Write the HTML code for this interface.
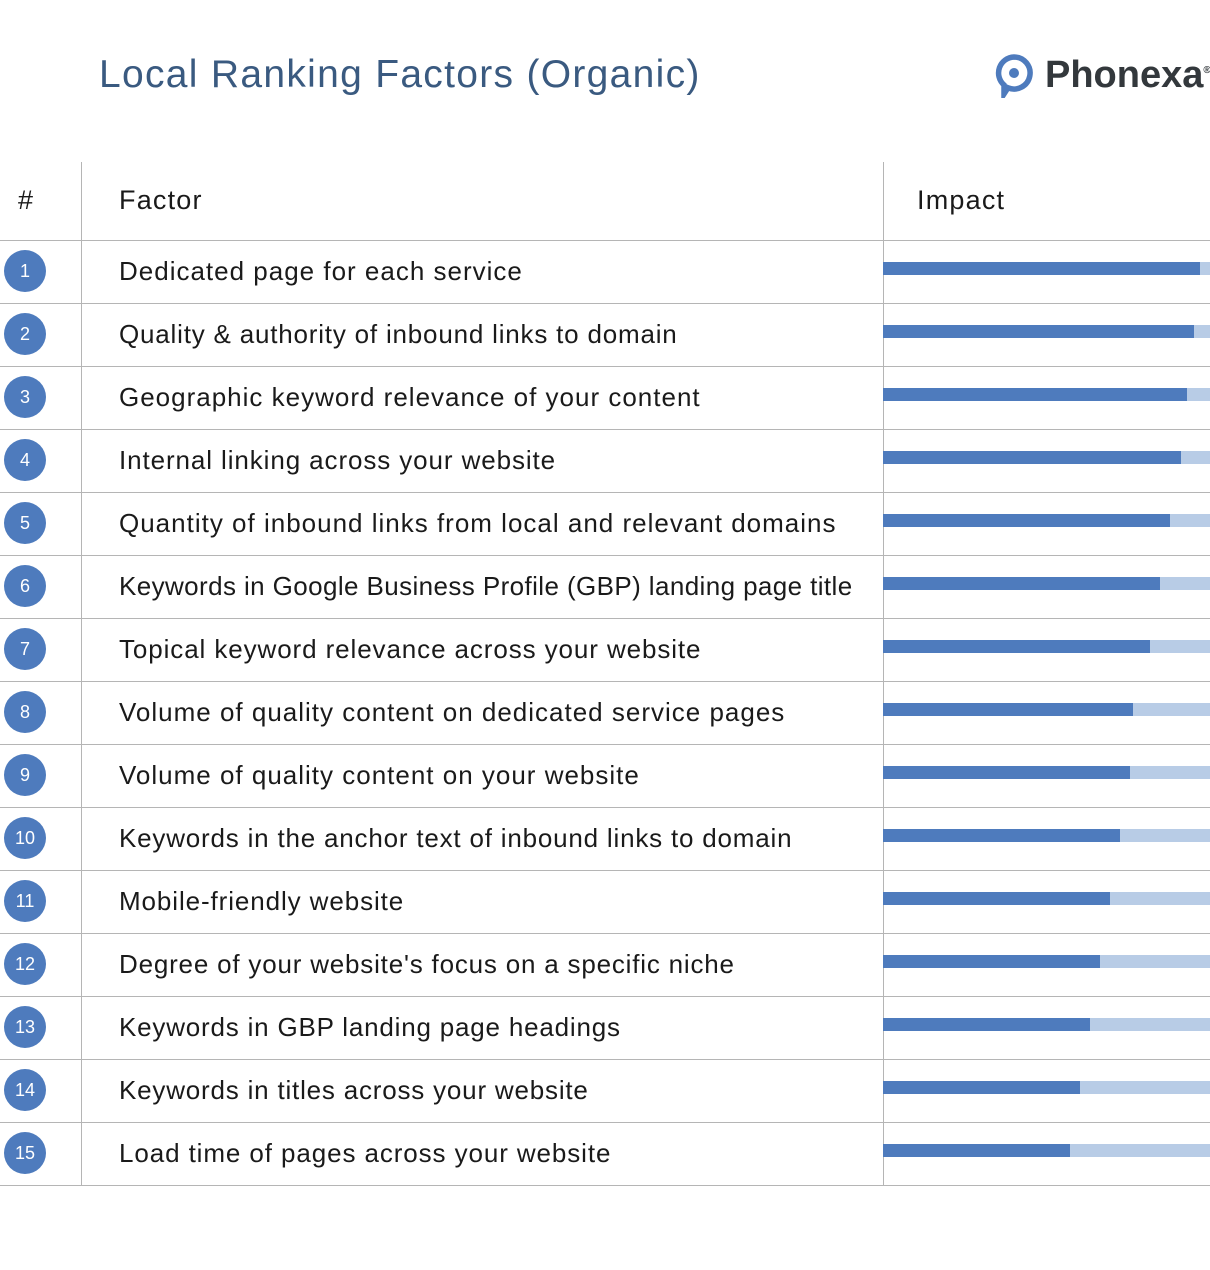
<!DOCTYPE html>
<html><head><style>
body{margin:0;width:1210px;height:1270px;background:#fff;font-family:"Liberation Sans",sans-serif;position:relative;overflow:hidden}
.a{position:absolute}
.t{left:99px;top:53px;font-size:39px;color:#3a5a80;white-space:nowrap;letter-spacing:1.3px}
.h{font-size:27px;color:#1a1a1a;letter-spacing:1.2px}
.hl{height:1px;background:#b5b5b5;left:0;width:1210px}
.vl{width:1px;background:#b5b5b5;top:162px;height:1023px}
.c{left:4px;width:42px;height:42px;border-radius:50%;background:#4e7bbd;color:#fff;font-size:18px;text-align:center;line-height:42px}
.f{left:119px;font-size:26px;color:#1a1a1a;white-space:nowrap;letter-spacing:1px}
.bg{left:883px;width:327px;height:13px;background:#b8cce6}
.b{left:883px;height:13px;background:#4e7bbd}
</style></head><body>
<div class="a t">Local Ranking Factors (Organic)</div>
<svg class="a" style="left:995px;top:54px" width="38" height="44" viewBox="0 0 38 44"><path d="M19 3a16 16 0 1 1-6 30.8L9 40l0-9A16 16 0 0 1 19 3z" fill="none" stroke="#4e7bbd" stroke-width="5.5"/><circle cx="19" cy="19" r="5" fill="#4e7bbd"/></svg>
<div class="a" style="left:1045px;top:54px;font-size:38px;font-weight:bold;color:#33383c">Phonexa<span style="font-size:10px;position:relative;top:-14px">®</span></div>
<div class="a h" style="left:18px;top:185px">#</div>
<div class="a h" style="left:119px;top:185px">Factor</div>
<div class="a h" style="left:917px;top:185px">Impact</div>
<div class="a vl" style="left:81px"></div>
<div class="a vl" style="left:883px"></div>
<div id="r"></div>
<script>
var f=["Dedicated page for each service","Quality &amp; authority of inbound links to domain","Geographic keyword relevance of your content","Internal linking across your website","Quantity of inbound links from local and relevant domains","Keywords in Google Business Profile (GBP) landing page title","Topical keyword relevance across your website","Volume of quality content on dedicated service pages","Volume of quality content on your website","Keywords in the anchor text of inbound links to domain","Mobile-friendly website","Degree of your website's focus on a specific niche","Keywords in GBP landing page headings","Keywords in titles across your website","Load time of pages across your website"];
var ls=[1,0.8,1,0.9,1,0.4,0.9,1,1,0.8,0.9,0.8,0.8,0.8,0.9];
var e=[1200,1194,1187,1181,1170,1160,1150,1133,1130,1120,1110,1100,1090,1080,1070];
var h='<div class="a hl" style="top:240px"></div>';
for(var i=0;i<15;i++){var y=240+i*63,c=y+31;
h+='<div class="a hl" style="top:'+(y+63)+'px"></div>';
h+='<div class="a c" style="top:'+(c-21)+'px">'+(i+1)+'</div>';
h+='<div class="a f" style="top:'+(c-15)+'px;letter-spacing:'+ls[i]+'px">'+f[i]+'</div>';
h+='<div class="a bg" style="top:'+(c-9)+'px"></div><div class="a b" style="top:'+(c-9)+'px;width:'+(e[i]-883)+'px"></div>';}
document.getElementById('r').innerHTML=h;
</script>
</body></html>
